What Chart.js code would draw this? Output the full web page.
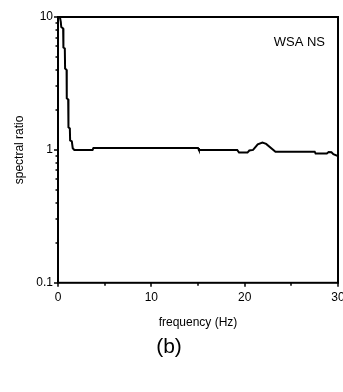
<!DOCTYPE html>
<html>
<head>
<meta charset="utf-8">
<script src="https://cdn.jsdelivr.net/npm/chart.js@4/dist/chart.umd.min.js"></script>
<style>
  body { margin: 0; background: #fff; }
  canvas { display: block; }
</style>
</head>
<body>
<canvas id="ratioChart" width="343" height="392"></canvas>
<script>
// spectral ratio curve
const freqHz = [0.2, 0.3, 0.35, 0.55, 0.58, 0.73, 0.76, 0.92, 0.94, 1.09, 1.12, 1.27, 1.3, 1.48, 1.58, 1.75,
  3.7, 3.8, 15.0, 15.1, 19.2, 19.4, 20.3, 20.5, 20.9, 21.4, 21.9, 22.3, 23.3, 27.5, 27.6, 28.8, 29.0, 29.3, 29.5, 30];
const spectralRatio = [10, 9.2, 8.4, 8.2, 5.9, 5.8, 4.1, 4.0, 2.45, 2.4, 1.48, 1.45, 1.18, 1.16, 1.03, 1.0,
  1.0, 1.035, 1.035, 1.0, 1.0, 0.955, 0.955, 0.99, 1.0, 1.1, 1.135, 1.11, 0.97, 0.97, 0.94, 0.94, 0.965, 0.96, 0.93, 0.9];

const xTickLabels = [0, 10, 20, 30];
const yTickLabels = [0.1, 1, 10];
const panelLabel = "WSA NS";

const FONT = "'Liberation Sans', Arial, sans-serif";

// frame + outward tick marks + panel label
const framePlugin = {
  id: "frame",
  afterDraw(chart) {
    const { ctx, chartArea: a, scales } = chart;
    const x = scales.x, y = scales.y;
    ctx.save();
    ctx.strokeStyle = "#000";
    ctx.lineWidth = 2;
    ctx.strokeRect(a.left, a.top, a.right - a.left, a.bottom - a.top);

    ctx.lineWidth = 1.5;
    ctx.beginPath();
    // x ticks (major every 10, minor every 5)
    for (let v = 0; v <= 30; v += 5) {
      const px = Math.round(x.getPixelForValue(v));
      const len = v % 10 === 0 ? 4 : 3;
      ctx.moveTo(px, a.bottom);
      ctx.lineTo(px, a.bottom + len);
    }
    // y ticks on log scale
    [0.1, 1].forEach((dec) => {
      for (let m = 1; m <= 9; m++) {
        const py = Math.round(y.getPixelForValue(dec * m));
        const len = m === 1 ? 4 : 2.5;
        ctx.moveTo(a.left, py);
        ctx.lineTo(a.left - len, py);
      }
    });
    const top = Math.round(y.getPixelForValue(10));
    ctx.moveTo(a.left, top);
    ctx.lineTo(a.left - 4, top);
    ctx.stroke();

    ctx.fillStyle = "#000";
    ctx.font = "13px " + FONT;
    ctx.textAlign = "right";
    ctx.textBaseline = "middle";
    ctx.fillText(panelLabel, a.right - 13, a.top + 25);
    ctx.restore();
  },
};

const ctx = document.getElementById("ratioChart").getContext("2d");

new Chart(ctx, {
  type: "line",
  data: {
    datasets: [
      {
        data: freqHz.map((f, i) => ({ x: f, y: spectralRatio[i] })),
        borderColor: "#000",
        borderWidth: 2,
        pointRadius: 0,
        tension: 0,
        fill: false,
      },
    ],
  },
  options: {
    responsive: false,
    animation: false,
    layout: { padding: { top: 17, right: 5, left: 0, bottom: 0 } },
    plugins: {
      legend: { display: false },
      tooltip: { enabled: false },
      title: {
        display: true,
        position: "bottom",
        text: "(b)",
        color: "#000",
        font: { family: FONT, size: 21, weight: "normal" },
        padding: { top: 4, bottom: 32 },
      },
    },
    scales: {
      x: {
        type: "linear",
        min: 0,
        max: 30,
        afterBuildTicks: (scale) => {
          scale.ticks = xTickLabels.map((v) => ({ value: v }));
        },
        afterFit: (scale) => {
          scale.height = 48;
          scale.paddingRight = 0;
        },
        grid: { display: false, drawTicks: false },
        border: { display: false },
        ticks: {
          color: "#000",
          padding: 8,
          maxRotation: 0,
          font: { family: FONT, size: 12 },
        },
        title: {
          display: true,
          text: "frequency (Hz)",
          color: "#000",
          font: { family: FONT, size: 12 },
          padding: { top: 0, bottom: 1 },
        },
      },
      y: {
        type: "logarithmic",
        min: 0.1,
        max: 10,
        afterBuildTicks: (scale) => {
          scale.ticks = yTickLabels.map((v) => ({ value: v }));
        },
        afterFit: (scale) => {
          scale.width = 58;
        },
        grid: { display: false, drawTicks: false },
        border: { display: false },
        ticks: {
          color: "#000",
          padding: 5,
          font: { family: FONT, size: 12 },
          callback: (v) => String(v),
        },
        title: {
          display: true,
          text: "spectral ratio",
          color: "#000",
          font: { family: FONT, size: 12 },
          padding: { top: 12, bottom: 0 },
        },
      },
    },
  },
  plugins: [framePlugin],
});
</script>
</body>
</html>
